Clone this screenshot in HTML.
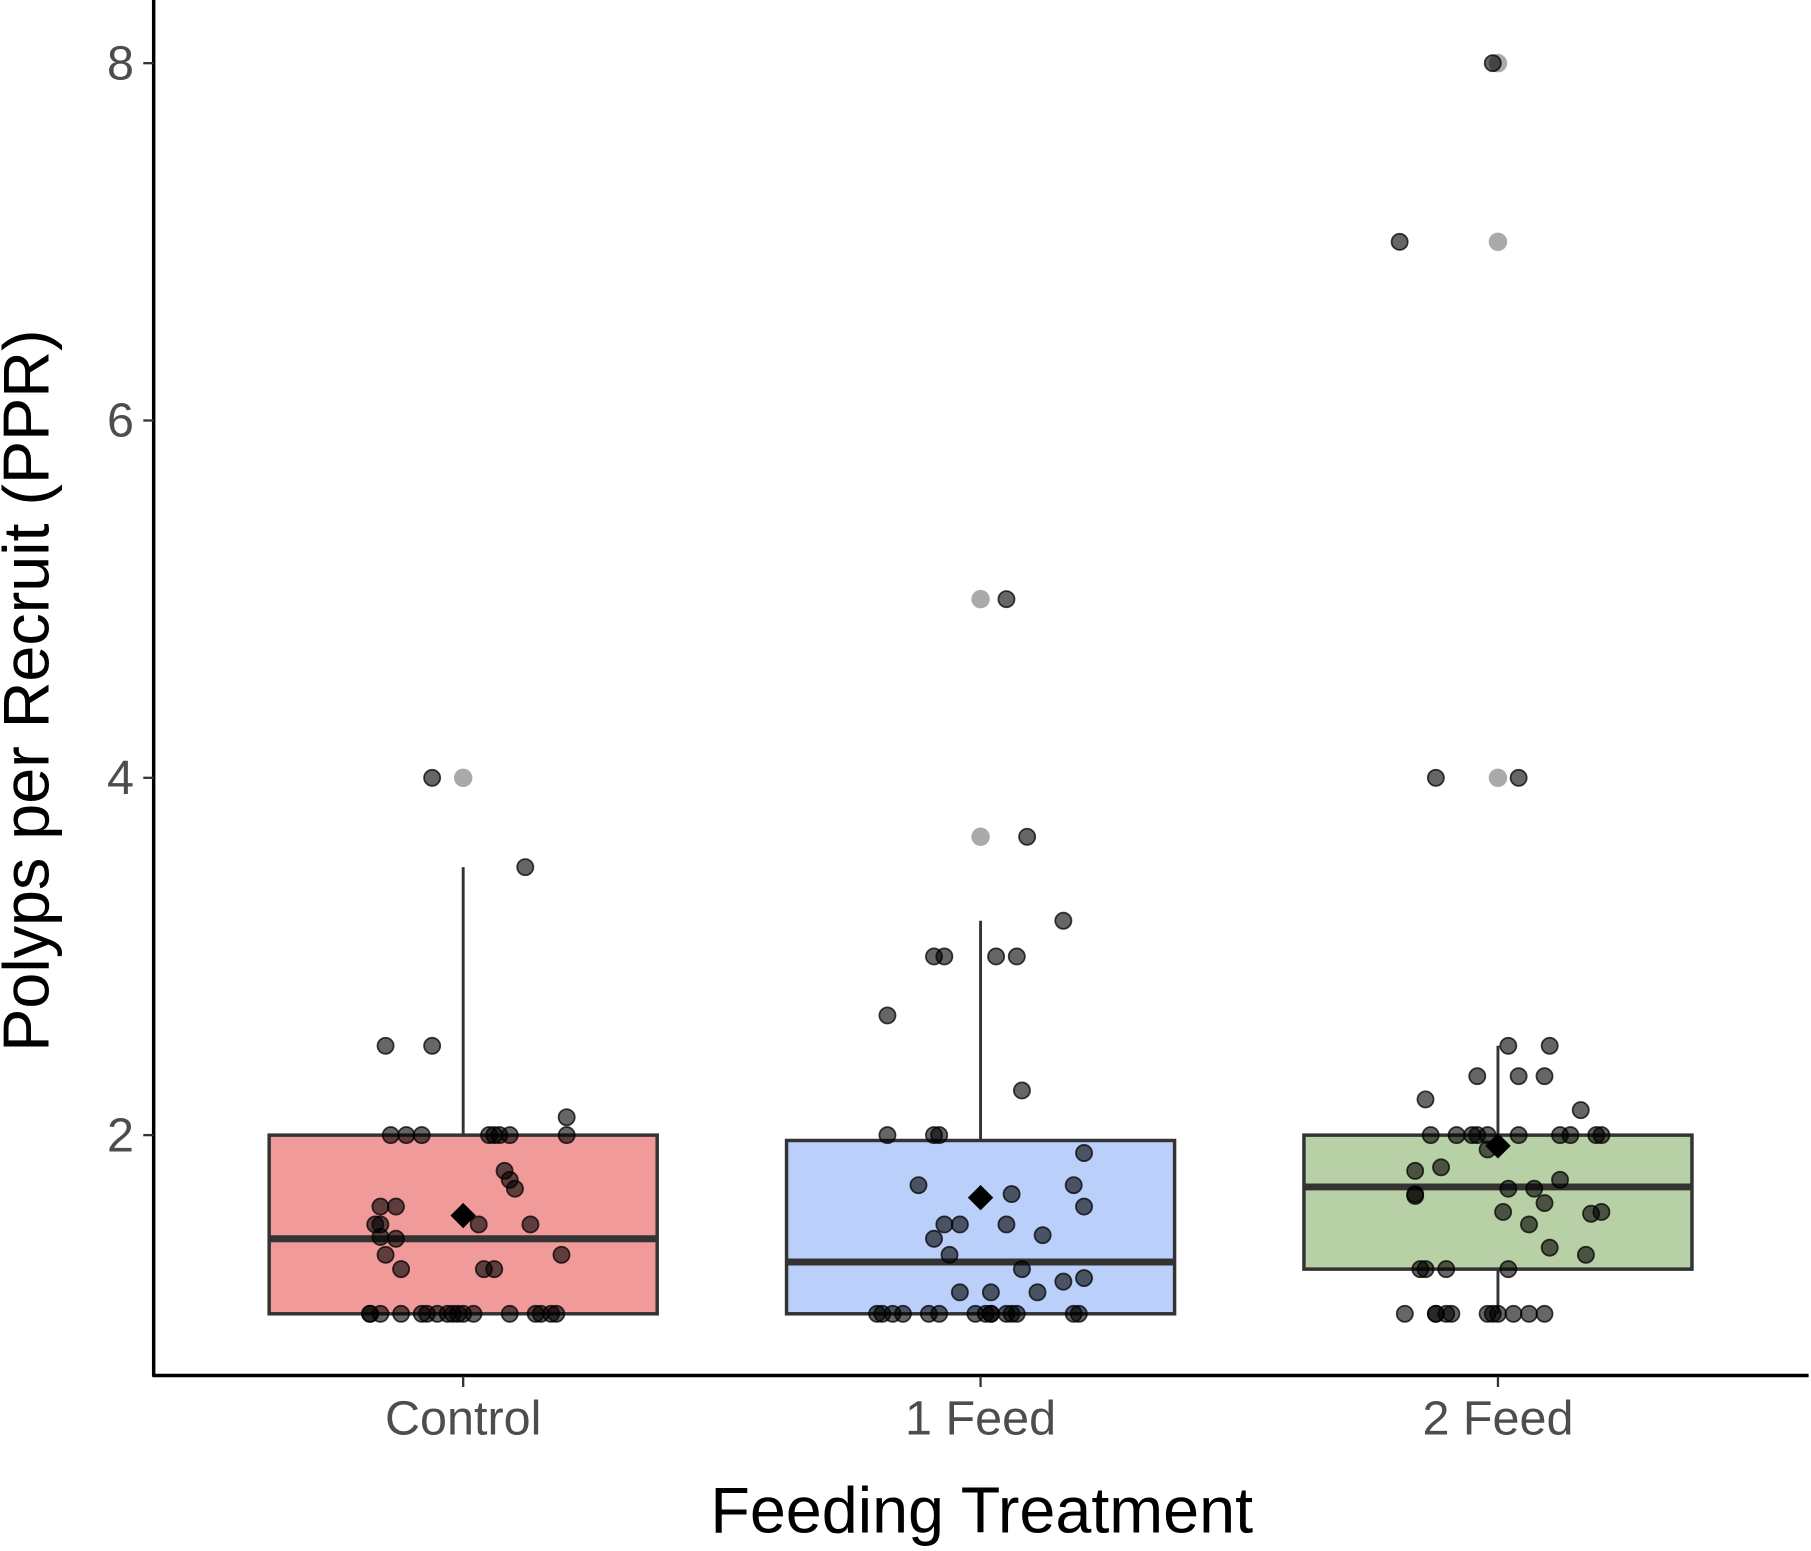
<!DOCTYPE html>
<html><head><meta charset="utf-8"><style>html,body{margin:0;padding:0;background:#fff}svg{display:block}</style></head>
<body>
<svg id="chart" width="1811" height="1551" viewBox="0 0 1568 1343" xmlns="http://www.w3.org/2000/svg" font-family="'Liberation Sans', sans-serif">
<g id="boxes"></g><g id="pts"></g>
<line x1="133" y1="0" x2="133" y2="1192" stroke="#000" stroke-width="3"/>
<line x1="132" y1="1191" x2="1566" y2="1191" stroke="#000" stroke-width="3"/>
<g id="axes"></g>
<text x="850" y="1327" text-anchor="middle" font-size="56" fill="#000">Feeding Treatment</text>
<text transform="translate(42,598) rotate(-90)" text-anchor="middle" font-size="56" fill="#000">Polyps per Recruit (PPR)</text>
</svg>
<script>
const categories = ["Control","1 Feed","2 Feed"];
const fills = ["#f09a9a","#bad0fb","#b8d0a6"];
const yTicks = [2,4,6,8];
const q1 = [1,1,1.25];
const medians = [1.42,1.29,1.71];
const q3 = [2,1.97,2];
const whiskLo = [1,1,1];
const whiskHi = [3.5,3.2,2.5];
const means = [1.55,1.65,1.94];
const outliers = [[4],[5,3.67],[8,7,4]];
const ctrlVals = [4,3.5,2.5,2.5,2.1,2,2,2,2,2,2,2,2,1.8,1.75,1.7,1.6,1.6,1.5,1.5,1.5,1.5,1.43,1.42,1.33,1.33,1.25,1.25,1.25,1,1,1,1,1,1,1,1,1,1,1,1,1,1,1,1,1];
const ctrlJit = [-6,12,-15,-6,20,-14,-11,-8,5,6,7,9,20,8,9,10,-16,-13,-17,-16,3,13,-16,-13,-15,19,-12,4,6,-18,-18,-16,-12,-8,-7,-5,-3,-2,-1,0,2,9,14,15,17,18];
const f1Vals = [5,3.67,3.2,3,3,3,3,2.67,2.25,2,2,2,1.9,1.72,1.72,1.67,1.6,1.5,1.5,1.5,1.42,1.44,1.33,1.25,1.2,1.18,1.12,1.12,1.12,1,1,1,1,1,1,1,1,1,1,1,1,1,1,1];
const f1Jit = [5,9,16,-9,-7,3,7,-18,8,-18,-9,-8,20,-12,18,6,20,-7,-4,5,-9,12,-6,8,20,16,-4,2,11,-20,-19,-17,-15,-10,-8,-1,1,2,2,5,6,7,18,19];
const f2Vals = [8,7,4,4,2.5,2.5,2.33,2.33,2.33,2.2,2.14,2,2,2,2,2,2,2,2,2,2,1.92,1.82,1.8,1.75,1.7,1.7,1.67,1.66,1.62,1.57,1.56,1.57,1.5,1.37,1.33,1.25,1.25,1.25,1.25,1,1,1,1,1,1,1,1,1,1,1];
const f2Jit = [-1,-19,-12,4,2,10,-4,4,9,-14,16,-13,-8,-5,-4,-2,4,12,14,19,20,-2,-11,-16,12,2,7,-16,-16,9,1,18,20,6,10,17,-15,-14,-10,2,-18,-12,-12,-10,-9,-2,-1,0,3,6,9];
const pointVals = [ctrlVals,f1Vals,f2Vals];
const pointJit = [ctrlJit,f1Jit,f2Jit];

const NS="http://www.w3.org/2000/svg";
const band=448, x0=401, halfBox=168;
const xs = i => x0 + i*band;
const ys = v => 1137.6 - (v-1)*154.7;
function mk(tag, attrs, parent){const e=document.createElementNS(NS,tag);for(const k in attrs)e.setAttribute(k,attrs[k]);parent.appendChild(e);return e;}
const B=document.getElementById('boxes'), P=document.getElementById('pts'), A=document.getElementById('axes');
categories.forEach((c,i)=>{
  const cx=xs(i);
  const g=mk('g',{},B);
  
  
  mk('line',{x1:cx,x2:cx,y1:ys(whiskHi[i]),y2:ys(q3[i]),stroke:'#333','stroke-width':2.5},g);
  mk('line',{x1:cx,x2:cx,y1:ys(q1[i]),y2:ys(whiskLo[i]),stroke:'#333','stroke-width':2.5},g);
  mk('rect',{x:cx-halfBox,y:ys(q3[i]),width:2*halfBox,height:ys(q1[i])-ys(q3[i]),fill:fills[i],stroke:'#333','stroke-width':3},g);
  mk('line',{x1:cx-halfBox,x2:cx+halfBox,y1:ys(medians[i]),y2:ys(medians[i]),stroke:'#333','stroke-width':6},g);
  outliers[i].forEach(v=>{
    const o=mk('circle',{cx:cx,cy:ys(v),r:8,fill:'#aaa'},g);
    
    
  });
  pointVals[i].forEach((v,k)=>{
    const p=mk('circle',{cx:cx+pointJit[i][k]/100*band,cy:ys(v),r:7,fill:'rgba(0,0,0,0.6)',stroke:'rgba(0,0,0,0.75)','stroke-width':1.5},P);
    
    
  });
  const my=ys(means[i]);
  const d=mk('polygon',{points:`${cx},${my-11} ${cx+11},${my} ${cx},${my+11} ${cx-11},${my}`,fill:'#000'},P);
  
  
  mk('line',{x1:cx,x2:cx,y1:1192,y2:1201,stroke:'#333','stroke-width':2},A);
  const t=mk('text',{x:cx,y:1242,'text-anchor':'middle','font-size':42,fill:'#4d4d4d'},A);
  t.textContent=c;
  
  
});
yTicks.forEach(v=>{
  mk('line',{x1:124,x2:133,y1:ys(v),y2:ys(v),stroke:'#333','stroke-width':2},A);
  const t=mk('text',{x:116,y:ys(v)+14,'text-anchor':'end','font-size':42,fill:'#4d4d4d'},A);
  t.textContent=v;
  
  
});
</script>
</body></html>
